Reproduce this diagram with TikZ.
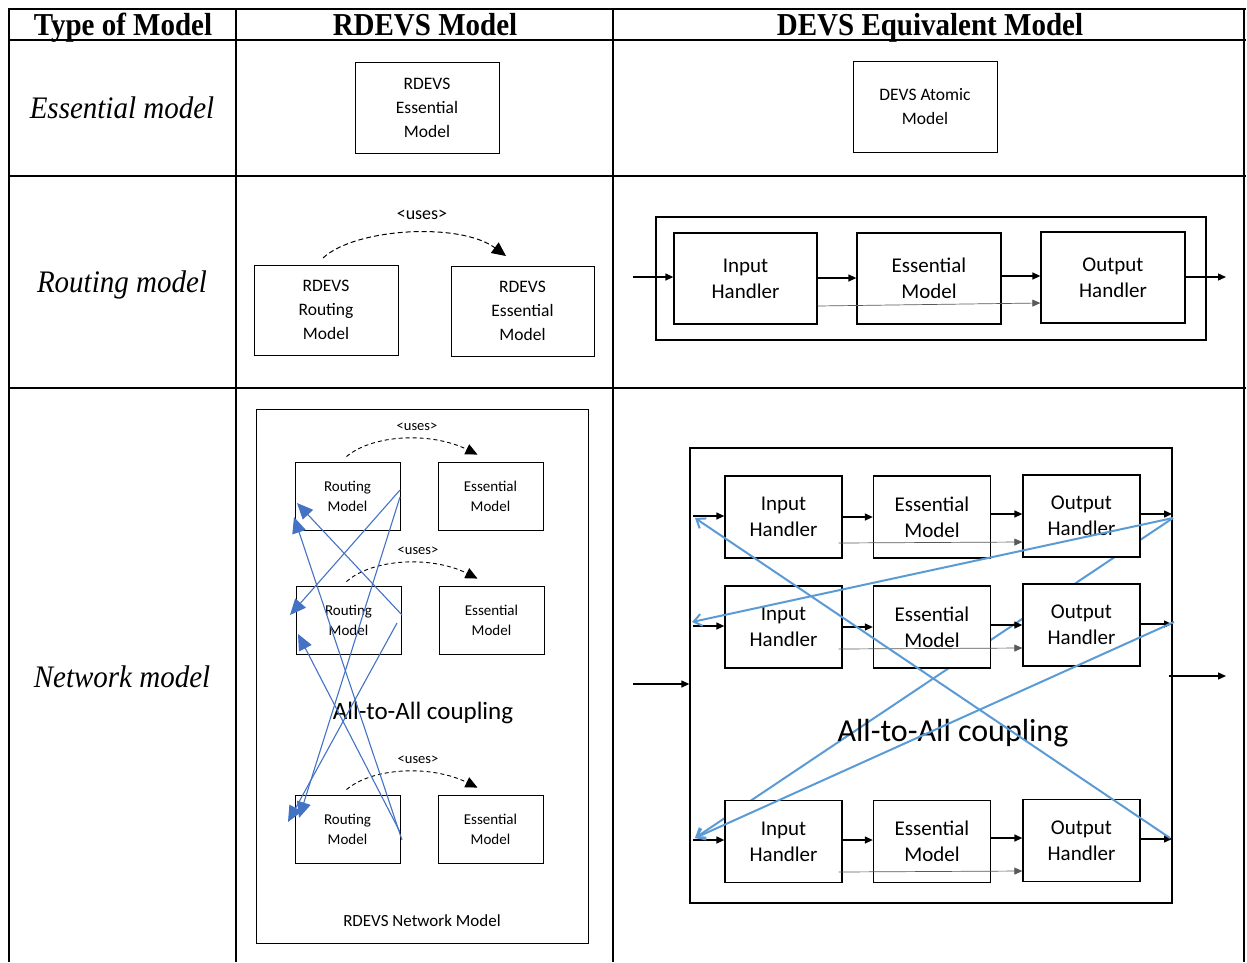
\documentclass[tikz,border=0pt]{standalone}
\usepackage{fontspec}
\setmainfont{Liberation Serif}
\newfontfamily\carl{Carlito}
\usetikzlibrary{arrows.meta,calc}
\definecolor{bluL}{HTML}{4472C4}
\definecolor{bluR}{HTML}{5B9BD5}
\tikzset{
  hdr/.style={font=\fontsize{29}{30}\selectfont\bfseries, inner sep=0pt, anchor=base},
  rowlab/.style={font=\fontsize{29}{30}\selectfont\itshape, inner sep=0pt, anchor=base},
  tline/.style={line width=2pt},
  bx/.style={draw, fill=white, line width=0.9pt, inner sep=0pt, align=center},
  bxa/.style={bx, font=\carl\fontsize{17.5}{24}\selectfont},
  bxd/.style={bx, line width=1.3pt, font=\carl\fontsize{21}{26}\selectfont},
  bxs/.style={bx, font=\carl\fontsize{15}{20}\selectfont},
  uses/.style={dashed, dash pattern=on 5pt off 3pt, line width=1pt, -{Triangle[length=14pt,width=13pt]}},
  usess/.style={dashed, dash pattern=on 4pt off 3pt, line width=0.9pt, -{Triangle[length=12pt,width=11pt]}},
  blk/.style={line width=1.3pt, -{Triangle[length=8pt,width=7pt]}},
  gry/.style={line width=0.7pt, draw=black!65, -{Triangle[length=8pt,width=7pt]}},
  bll/.style={line width=1.1pt, draw=bluL, -{Triangle[length=16pt,width=14pt, fill=bluL]}},
  blr/.style={line width=2pt, draw=bluR, -{Straight Barb[length=8pt,width=12pt]}},
  usetext/.style={font=\carl\fontsize{18}{20}\selectfont, inner sep=0pt},
  usetexts/.style={font=\carl\fontsize{14.5}{18}\selectfont, inner sep=0pt},
}
\begin{document}
\begin{tikzpicture}[x=1pt,y=-1pt]
\useasboundingbox (0,0) rectangle (1247,962);

% ---------- table ----------
\draw[tline] (8,9) -- (1246,9);
\draw[tline] (8,40) -- (1246,40);
\draw[tline] (8,176) -- (1246,176);
\draw[tline] (8,388) -- (1246,388);
\draw[tline] (9,8) -- (9,962);
\draw[tline] (236,8) -- (236,962);
\draw[tline] (613,8) -- (613,962);
\draw[tline] (1244,8) -- (1244,962);

\node[hdr] (h1) at (123,35) {\scalebox{1}[1.1]{Type of Model}};
\node[hdr] (h2) at (425,35) {\scalebox{1}[1.1]{RDEVS Model}};
\node[hdr] (h3) at (930,35) {\scalebox{1}[1.1]{DEVS Equivalent Model}};

\node[rowlab] (l1) at (122,118) {\scalebox{1}[1.08]{Essential model}};
\node[rowlab] (l2) at (122,292) {\scalebox{1}[1.08]{Routing model}};
\node[rowlab] (l3) at (122,687) {\scalebox{1}[1.08]{Network model}};

% ---------- row 1 ----------
\node[bxa, minimum width=144pt, minimum height=91pt] (ress) at (427,107.5) {RDEVS\\Essential\\Model};
\node[bxa, minimum width=144pt, minimum height=91pt] (datom) at (925,106.5) {DEVS Atomic\\Model};

% ---------- row 2 left ----------
\node[bxa, minimum width=144pt, minimum height=90pt] (rrout) at (326,310) {RDEVS\\Routing\\Model};
\node[bxa, minimum width=143pt, minimum height=90pt] (ress2) at (522.5,311) {RDEVS\\Essential\\Model};
\node[usetext] (u0) at (422,215) {<uses>};
\coordinate (u0s) at (323,258);
\coordinate (u0e) at (506,256);
\draw[uses] (u0s) .. controls (355,228) and (460,222) .. (u0e);

% ---------- row 2 right ----------
\node[draw, line width=1.3pt, minimum width=550pt, minimum height=123pt, inner sep=0pt] (rout) at (931,278.5) {};
\node[bxd, minimum width=143pt, minimum height=91pt] (rih) at (745.5,278.5) {Input\\Handler};
\node[bxd, minimum width=144pt, minimum height=91pt] (rem) at (929,278.5) {Essential\\Model};
\node[bxd, minimum width=144pt, minimum height=91pt] (roh) at (1113,277.5) {Output\\Handler};
\coordinate (rin) at (633,277);
\coordinate (rout2) at (1226,277);
\draw[blk] (rin) -- (rin -| rih.west);
\draw[blk] (rih.east |- 0,278) -- (rem.west |- 0,278);
\draw[blk] (rem.east |- 0,276) -- (roh.west |- 0,276);
\draw[blk] (roh.east |- 0,277) -- (rout2);
\draw[gry] (rih.east |- 0,306) -- (roh.west |- 0,303);

% ---------- row 3 left ----------
\node[draw, line width=0.9pt, minimum width=332pt, minimum height=534pt, inner sep=0pt] (net) at (422,676) {};
\node[bxs, minimum width=105pt, minimum height=68pt] (r1) at (347.5,496) {Routing\\Model};
\node[bxs, minimum width=105pt, minimum height=68pt] (e1) at (490.5,496) {Essential\\Model};
\node[bxs, minimum width=105pt, minimum height=68pt] (r2) at (348.5,620) {Routing\\Model};
\node[bxs, minimum width=105pt, minimum height=68pt] (e2) at (491.5,620) {Essential\\Model};
\node[bxs, minimum width=105pt, minimum height=68pt] (r3) at (347.5,829) {Routing\\Model};
\node[bxs, minimum width=105pt, minimum height=68pt] (e3) at (490.5,829) {Essential\\Model};
\node[usetexts] (ul1) at (417,427) {<uses>};
\node[usetexts] (ul2) at (418,551) {<uses>};
\node[usetexts] (ul3) at (418,760) {<uses>};
\draw[usess] ($(r1.north)+(-1,-5)$) .. controls ($(r1.north)+(25,-27)$) and ($(e1.north)+(-60,-30)$) .. ($(e1.north)+(-13,-7)$);
\draw[usess] ($(r2.north)+(-2,-4)$) .. controls ($(r2.north)+(24,-27)$) and ($(e2.north)+(-60,-30)$) .. ($(e2.north)+(-14,-7)$);
\draw[usess] ($(r3.north)+(-1,-5)$) .. controls ($(r3.north)+(25,-27)$) and ($(e3.north)+(-60,-30)$) .. ($(e3.north)+(-13,-7)$);
\node[font=\carl\fontsize{25}{28}\selectfont, inner sep=0pt] (aal) at (423,713) {All-to-All coupling};
\node[font=\carl\fontsize{17}{20}\selectfont, inner sep=0pt] (netlab) at (422,921) {RDEVS Network Model};

\coordinate (r1o1) at (400,490);
\coordinate (r1o2) at (400,497);
\coordinate (r2o1) at (402,615);
\coordinate (r2o2) at (397,623);
\coordinate (r3o1) at (402,840);
\coordinate (r3o2) at (400,832);
\coordinate (r1i1) at (297,503);
\coordinate (r1i2) at (294,517);
\coordinate (r2i1) at (290,615);
\coordinate (r2i2) at (298,634);
\coordinate (r3i1) at (288,822);
\coordinate (r3i2) at (299,818);
\draw[bll] (r1o1) -- (r2i1);
\draw[bll] (r1o2) -- (r3i2);
\draw[bll] (r2o1) -- (r1i1);
\draw[bll] (r2o2) -- (r3i1);
\draw[bll] (r3o1) -- (r1i2);
\draw[bll] (r3o2) -- (r2i2);

% ---------- row 3 right ----------
\node[draw, line width=1.3pt, minimum width=482pt, minimum height=455pt, inner sep=0pt] (dnet) at (931,675.5) {};
\coordinate (c1s) at (1173,518);
\coordinate (c1e) at (695,838);
\draw[blr] (c1s) -- (c1e);
\foreach \r/\y/\yo in {1/517/516, 2/627/625, 3/841.5/840.5} {
  \node[bxd, minimum width=117pt, minimum height=82pt] (ih\r) at (783.5,\y) {Input\\Handler};
  \node[bxd, minimum width=117pt, minimum height=82pt] (em\r) at (932,\y) {Essential\\Model};
  \node[bxd, minimum width=117pt, minimum height=82pt] (oh\r) at (1081.5,\yo) {Output\\Handler};
}
\foreach \r/\ya/\yb/\yc/\yd/\yg in {1/516/517/514/514/542, 2/626/627/625/624/648, 3/840/840/838/839/871} {
  \coordinate (pin\r) at (693,\ya);
  \coordinate (pout\r) at (1172,\yd);
  \draw[blk] (pin\r) -- (pin\r -| ih\r.west);
  \draw[blk] (ih\r.east |- 0,\yb) -- (em\r.west |- 0,\yb);
  \draw[blk] (em\r.east |- 0,\yc) -- (oh\r.west |- 0,\yc);
  \draw[blk] (oh\r.east |- 0,\yd) -- (pout\r);
  \draw[gry] ($(ih\r.east |- 0,\yg)+(-4,1)$) -- (oh\r.west |- 0,\yg);
}
\coordinate (din) at (633,684);
\coordinate (dout) at (1226,676);
\draw[blk] (din) -- (din -| dnet.west);
\draw[blk] (dout -| dnet.east) ++(-4,0) -- (dout);
\node[font=\carl\fontsize{32}{36}\selectfont, inner sep=0pt] (aar) at (953,733) {All-to-All coupling};

\coordinate (a1s) at (1170,838);
\coordinate (a1e) at (695,518);
\coordinate (b1s) at (1173,518);
\coordinate (b1e) at (692,622);
\coordinate (d1s) at (1174,622);
\coordinate (d1e) at (695,838);
\draw[blr] (a1s) -- (a1e);
\draw[blr] (b1s) -- (b1e);
\draw[blr] (d1s) -- (d1e);
\end{tikzpicture}
\end{document}
